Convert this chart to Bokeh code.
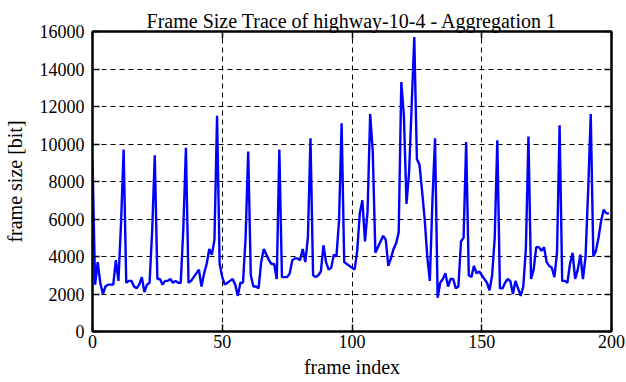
from bokeh.plotting import figure
from bokeh.models import LinearAxis, FixedTicker, Range1d, CustomJSTickFormatter
from bokeh.embed import file_html
from bokeh.resources import INLINE

# ---- data ----
frame_index = list(range(200))
frame_size = [
    9100, 2500, 3700, 2600, 2000, 2400, 2500, 2500, 2500, 3800,
    2700, 5800, 9700, 2600, 2700, 2700, 2400, 2300, 2500, 2900,
    2100, 2500, 2600, 5400, 9400, 2800, 2800, 2500, 2700, 2700,
    2800, 2600, 2700, 2600, 2600, 5500, 9800, 2600, 2700, 2900,
    3100, 3300, 2400, 3100, 3600, 4400, 4100, 4900, 11500, 3600,
    2900, 2500, 2600, 2700, 2800, 2500, 1900, 2600, 2600, 5000,
    9600, 3000, 2400, 2400, 2300, 3700, 4400, 4100, 3800, 3600,
    3600, 2800, 9700, 2900, 2900, 2900, 3100, 3800, 3900, 3900,
    3800, 4400, 3700, 5000, 10300, 3000, 2900, 3000, 3200, 4600,
    3700, 3300, 3400, 4100, 4000, 5900, 11100, 3700, 3600, 3500,
    3400, 3300, 4300, 6300, 7000, 4800, 6400, 11600, 9600, 4200,
    4500, 4800, 5100, 4900, 3500, 3900, 4400, 4700, 5300, 13300,
    11500, 6800, 8500, 12100, 15700, 9200, 8900, 7500, 6000, 4000,
    2700, 7000, 10300, 1800, 2600, 2800, 3100, 2400, 2800, 2800,
    2300, 2400, 4800, 5000, 10100, 3000, 2900, 3500, 3100, 3200,
    3000, 2800, 2600, 2200, 3000, 5000, 10200, 2300, 2300, 2600,
    2800, 2700, 2000, 2700, 2300, 1900, 2400, 4400, 10400, 2800,
    3300, 4500, 4500, 4300, 4500, 3700, 3500, 3400, 2900, 4200,
    11000, 2700, 2700, 2600, 3600, 4200, 2800, 3300, 4100, 2800,
    4000, 7500, 11600, 4000, 4300, 5000, 5900, 6500, 6300, 6300,
]
x_ticks = [0, 50, 100, 150, 200]
y_ticks = [0, 2000, 4000, 6000, 8000, 10000, 12000, 14000, 16000]

title_text = "Frame Size Trace of highway-10-4 - Aggregation 1"
x_label = "frame index"
y_label = "frame size [bit]"

FONT = "Liberation Serif"

p = figure(width=626, height=382, output_backend="svg", toolbar_location=None,
           x_range=Range1d(0, 200), y_range=Range1d(0, 16000),
           min_border_left=92, min_border_right=15,
           min_border_top=31, min_border_bottom=51,
           x_axis_label=x_label, y_axis_label=y_label)

p.title.text = title_text
p.title.align = "center"
p.title.text_font = FONT
p.title.text_font_style = "normal"
p.title.text_font_size = "20px"
p.title.text_color = "black"
p.title.standoff = 0
p.title.offset = 0

p.line(frame_index, frame_size, line_color="#0000ff", line_width=2.4)

p.background_fill_color = "white"
p.border_fill_color = "white"
p.outline_line_color = "black"
p.outline_line_width = 2
p.outline_line_alpha = 1

for g, t in ((p.xgrid, x_ticks), (p.ygrid, y_ticks)):
    g.ticker = FixedTicker(ticks=t)
    g.grid_line_color = "black"
    g.grid_line_dash = "5 4"
    g.grid_line_width = 1
    g.grid_line_alpha = 1

bottom_ax = p.below[0]
left_ax = p.left[0]
top_ax = LinearAxis()
right_ax = LinearAxis()
p.add_layout(top_ax, "above")
p.add_layout(right_ax, "right")

for ax, ticks in ((bottom_ax, x_ticks), (left_ax, y_ticks),
                  (top_ax, x_ticks), (right_ax, y_ticks)):
    ax.ticker = FixedTicker(ticks=ticks)
    ax.axis_line_color = "black"
    ax.axis_line_width = 2
    ax.major_tick_line_color = "black"
    ax.major_tick_line_width = 1.5
    ax.major_tick_in = 7
    ax.major_tick_out = 0
    ax.minor_tick_line_color = None
    ax.major_label_text_font = FONT
    ax.major_label_text_font_style = "normal"
    ax.major_label_text_font_size = "18px"
    ax.major_label_text_color = "black"
    ax.axis_label_text_font = FONT
    ax.axis_label_text_font_size = "20px"
    ax.axis_label_text_font_style = "normal"
    ax.axis_label_text_color = "black"

for ax in (top_ax, right_ax):
    ax.formatter = CustomJSTickFormatter(code="return ''")
    ax.major_label_standoff = 0

bottom_ax.major_label_standoff = 3
bottom_ax.axis_label_standoff = 5
left_ax.major_label_standoff = 8
left_ax.axis_label_standoff = 11

open("out.html", "w").write(file_html(p, INLINE))
